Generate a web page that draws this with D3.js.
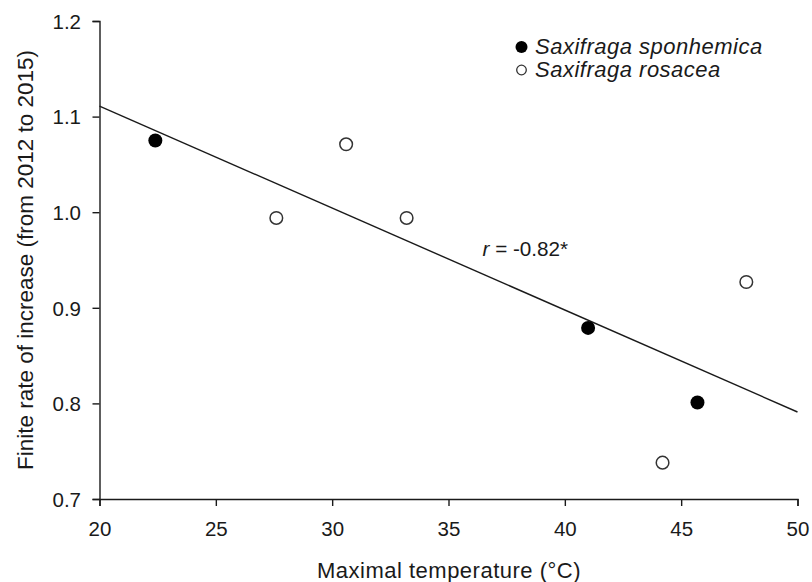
<!DOCTYPE html>
<html>
<head>
<meta charset="utf-8">
<script src="https://cdn.jsdelivr.net/npm/d3@7"></script>
<style>
  html, body { margin: 0; padding: 0; background: #fff; }
  svg text { font-family: "Liberation Sans", Arial, sans-serif; fill: #1a1a1a; }
</style>
</head>
<body>
<svg id="chart" width="812" height="582"></svg>
<script>
// Maximal temperature (°C) and finite rate of increase per population
const sponhemicaTemp = [22.4, 41.0, 45.7];
const sponhemicaRate = [1.075, 0.879, 0.801];
const rosaceaTemp = [27.6, 30.6, 33.2, 44.2, 47.8];
const rosaceaRate = [0.994, 1.071, 0.994, 0.738, 0.927];

// Linear fit across both species
const fitX = [20, 50];
const fitY = [1.111, 0.791];

const xTicks = [20, 25, 30, 35, 40, 45, 50];
const yTicks = [0.7, 0.8, 0.9, 1.0, 1.1, 1.2];

const svg = d3.select("#chart");
const x = d3.scaleLinear().domain([20, 50]).range([99.5, 797.5]);
const y = d3.scaleLinear().domain([0.7, 1.2]).range([499, 21]);
const ink = "#1a1a1a";

// Axes
const xAxis = svg.append("g").attr("transform", "translate(0,499)")
  .call(d3.axisBottom(x).tickValues(xTicks).tickFormat(d3.format("d")).tickSizeOuter(0).tickSize(7).tickPadding(15.5));
const yAxis = svg.append("g").attr("transform", "translate(99.5,0)")
  .call(d3.axisLeft(y).tickValues(yTicks).tickFormat(d3.format(".1f")).tickSizeOuter(0).tickSize(7).tickPadding(11.5));
[xAxis, yAxis].forEach(g => {
  g.selectAll("path, line").attr("stroke", ink).attr("stroke-width", 1.4);
  g.selectAll("text").style("font-size", "20.5px").style("font-family", "'Liberation Sans', Arial, sans-serif").attr("fill", ink);
});
yAxis.selectAll("text").attr("dy", "0.36em");

// Regression line
svg.append("line")
  .attr("x1", x(fitX[0])).attr("y1", y(fitY[0]))
  .attr("x2", x(fitX[1])).attr("y2", y(fitY[1]))
  .attr("stroke", ink).attr("stroke-width", 1.4);

// Points
svg.append("g").selectAll("circle")
  .data(rosaceaTemp.map((t, i) => [t, rosaceaRate[i]]))
  .join("circle")
  .attr("cx", d => x(d[0])).attr("cy", d => y(d[1])).attr("r", 6.3)
  .attr("fill", "#fff").attr("stroke", "#333").attr("stroke-width", 1.5);
svg.append("g").selectAll("circle")
  .data(sponhemicaTemp.map((t, i) => [t, sponhemicaRate[i]]))
  .join("circle")
  .attr("cx", d => x(d[0])).attr("cy", d => y(d[1])).attr("r", 7)
  .attr("fill", "#000");

// Correlation annotation
const r = svg.append("text").attr("x", 482.5).attr("y", 255.5).style("font-size", "20.7px");
r.append("tspan").attr("font-style", "italic").text("r");
r.append("tspan").text(" = -0.82*");

// Legend
const legend = svg.append("g");
legend.append("circle").attr("cx", 521.5).attr("cy", 47).attr("r", 6).attr("fill", "#000");
legend.append("text").attr("x", 535).attr("y", 54).style("font-size", "22px").style("letter-spacing", "0.5px")
  .attr("font-style", "italic").text("Saxifraga sponhemica");
legend.append("circle").attr("cx", 521.5).attr("cy", 70).attr("r", 4.8)
  .attr("fill", "#fff").attr("stroke", "#333").attr("stroke-width", 1.3);
legend.append("text").attr("x", 535).attr("y", 77).style("font-size", "22px").style("letter-spacing", "0.5px")
  .attr("font-style", "italic").text("Saxifraga rosacea");

// Axis titles
svg.append("text").attr("x", 449).attr("y", 578).attr("text-anchor", "middle")
  .style("font-size", "22px").style("letter-spacing", "0.5px").text("Maximal temperature (°C)");
svg.append("text").attr("transform", "translate(33,260) rotate(-90)").attr("text-anchor", "middle")
  .style("font-size", "22.5px").text("Finite rate of increase (from 2012 to 2015)");
</script>
</body>
</html>
